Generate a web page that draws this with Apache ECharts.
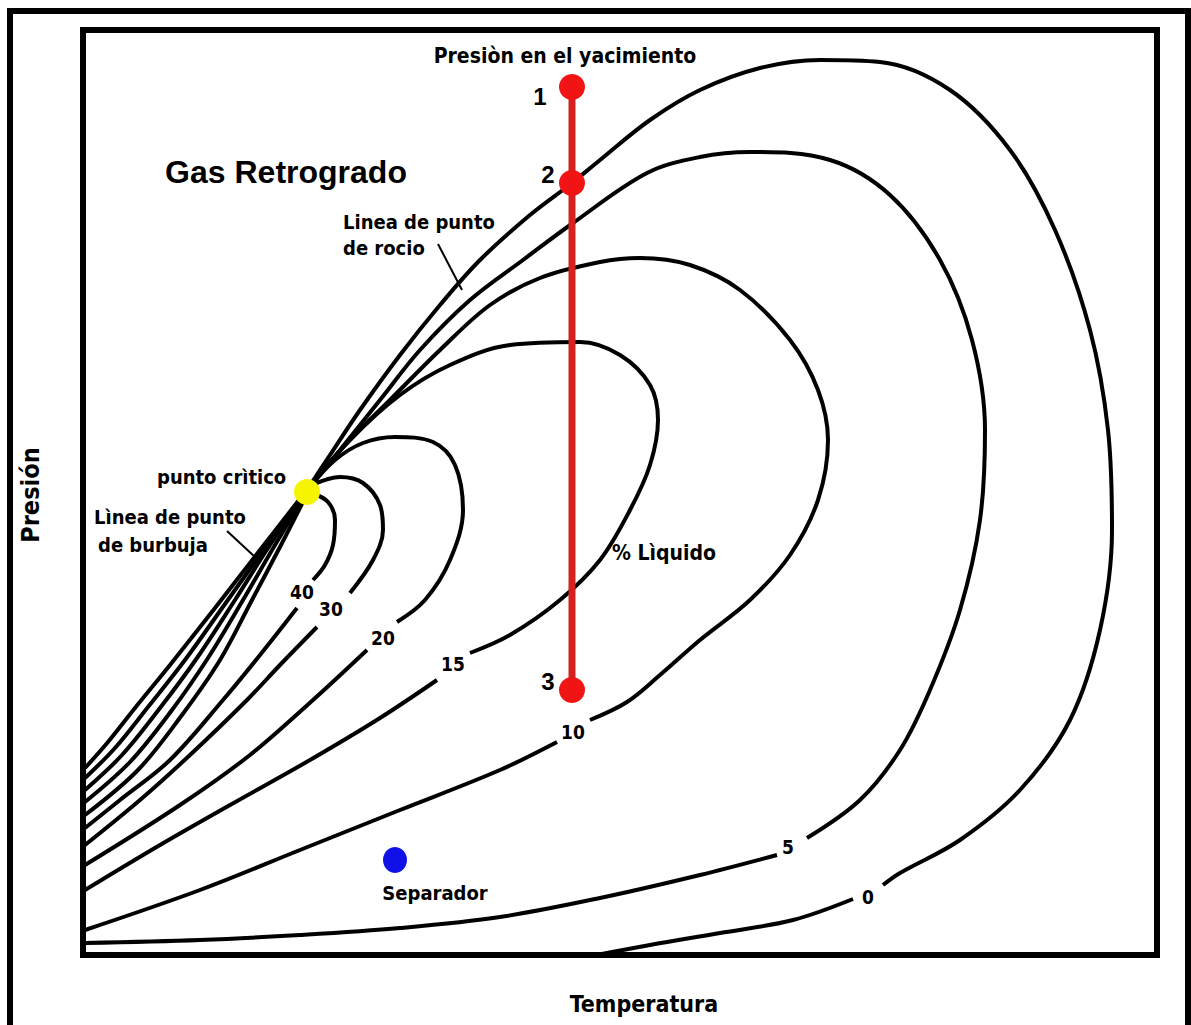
<!DOCTYPE html>
<html>
<head>
<meta charset="utf-8">
<title>Gas Retrogrado</title>
<script src="https://cdn.jsdelivr.net/npm/echarts@6/dist/echarts.min.js"></script>
<style>
  html, body { margin: 0; padding: 0; background: #fff; }
  #main { width: 1191px; height: 1025px; }
</style>
</head>
<body>
<div id="main"></div>
<script>
// curvas de % liquido (x = temperatura, y = presion en px del dibujo)
// cada curva va partida en dos tramos por la etiqueta
var liq0 = [[307, 490], [330, 455], [360, 410], [400, 355], [440, 305], [480, 260], [530, 215], [572, 183], [600, 160], [650, 120], [700, 90], [760, 68], [820, 60], [880, 62], [950, 90], [1010, 150], [1055, 230], [1090, 330], [1108, 430], [1112, 530], [1100, 630], [1070, 720], [1020, 790], [960, 840], [900, 873], [883, 885]]
var liq0b = [[853, 899], [793, 920], [720, 933], [650, 945], [560, 962]]
var liq5 = [[307, 490], [340, 450], [380, 400], [420, 350], [470, 300], [523, 260], [573, 223], [647, 173], [700, 157], [750, 152], [830, 160], [890, 195], [940, 260], [972, 340], [985, 430], [980, 520], [960, 610], [930, 690], [900, 750], [860, 800], [807, 838]]
var liq5b = [[777, 855], [700, 875], [600, 898], [500, 917], [400, 928], [300, 935], [200, 940], [85, 943]]
var liq10 = [[307, 490], [345, 445], [390, 400], [440, 350], [490, 305], [540, 278], [600, 262], [640, 258], [690, 265], [740, 290], [790, 340], [818, 390], [828, 440], [818, 500], [790, 555], [750, 600], [700, 640], [660, 675], [627, 702], [590, 720]]
var liq10b = [[557, 742], [500, 770], [400, 810], [300, 850], [200, 890], [85, 930]]
var liq15 = [[307, 490], [350, 440], [400, 395], [450, 365], [510, 345], [580, 342], [620, 355], [650, 385], [658, 420], [650, 465], [630, 510], [600, 560], [560, 600], [510, 635], [470, 653]]
var liq15b = [[437, 680], [380, 718], [310, 760], [230, 805], [160, 845], [85, 890]]
var liq20 = [[310, 487], [335, 460], [363, 443], [395, 437], [433, 442], [455, 465], [463, 510], [450, 560], [425, 600], [397, 622]]
var liq20b = [[367, 650], [313, 700], [250, 755], [180, 805], [85, 865]]
var liq30 = [[312, 485], [340, 477], [363, 483], [380, 505], [383, 530], [373, 560], [350, 593]]
var liq30b = [[317, 627], [280, 665], [247, 700], [190, 755], [140, 800], [85, 845]]
var liq40 = [[312, 493], [328, 502], [335, 520], [333, 545], [325, 565], [313, 580]]
var liq40b = [[297, 608], [260, 655], [223, 700], [170, 760], [120, 800], [85, 828]]
var liq50 = [[306, 496], [281, 545], [252, 600], [220, 660], [182, 715], [138, 770], [85, 815]]
var liq60 = [[305, 495], [275, 545], [243, 600], [208, 658], [172, 710], [130, 762], [85, 802]]
var liq70 = [[305, 494], [270, 545], [235, 600], [197, 658], [160, 708], [122, 755], [85, 790]]
var liq80 = [[305, 493], [265, 548], [225, 604], [185, 660], [148, 707], [115, 748], [85, 778]]
var liq100 = [[306, 491], [260, 550], [215, 608], [170, 665], [135, 708], [108, 742], [85, 768]]

// etiquetas de las curvas
var pctLabels = ['40', '30', '20', '15', '10', '5', '0']
var pctPos = [[302, 592], [331, 609], [383, 638], [453, 664], [573, 732], [788, 847], [868, 897]]

// trayectoria del yacimiento (1 -> 2 -> 3), punto critico y separador
var reservoir = [[572, 87], [572, 183], [572, 690]]
var reservoirNames = ['1', '2', '3']
var criticalPoint = [[307, 492]]
var separator = [[395, 860]]

var chartDom = document.getElementById('main')
var myChart = echarts.init(chartDom, null, { renderer: 'svg' })

var curves = [liq0, liq0b, liq5, liq5b, liq10, liq10b, liq15, liq15b, liq20, liq20b,
  liq30, liq30b, liq40, liq40b, liq50, liq60, liq70, liq80, liq100]

var series = curves.map(function (c) {
  return {
    type: 'line',
    data: c,
    smooth: 0.35,
    symbol: 'none',
    silent: true,
    lineStyle: { color: '#000', width: 4 },
    z: 2
  }
})

series.push({
  type: 'line',
  data: [reservoir[0], reservoir[2]],
  symbol: 'none',
  lineStyle: { color: '#d42222', width: 7 },
  z: 3
})
series.push({
  type: 'scatter',
  data: reservoir,
  symbolSize: 26,
  itemStyle: { color: '#f01414', opacity: 1 },
  z: 4
})
series.push({
  type: 'scatter',
  data: criticalPoint,
  symbolSize: 26,
  itemStyle: { color: '#f5f500', opacity: 1 },
  z: 4
})
series.push({
  type: 'scatter',
  data: separator,
  symbolSize: [24, 26],
  itemStyle: { color: '#1010e8', opacity: 1 },
  z: 4
})

var narrow = "'Liberation Sans Narrow', 'DejaVu Sans Condensed', sans-serif"
var bold = "bold 20px " + narrow

function txt (s, x, y, font, align, rot) {
  return {
    type: 'text',
    x: x,
    y: y,
    rotation: rot || 0,
    z: 10,
    style: {
      text: s,
      font: font || bold,
      fill: '#000',
      align: align || 'center',
      verticalAlign: 'middle'
    }
  }
}

var graphics = [
  {
    type: 'rect',
    shape: { x: 10, y: 11, width: 1178, height: 1030 },
    style: { fill: 'none', stroke: '#000', lineWidth: 6 },
    z: 1
  },
  txt('Presiòn en el yacimiento', 565, 56, 'bold 21px ' + narrow),
  txt('Gas Retrogrado', 286, 172, 'bold 32px Arial, sans-serif'),
  txt('Linea de punto', 343, 222, bold, 'left'),
  txt('de rocio', 343, 248, bold, 'left'),
  txt('punto crìtico', 157, 477, bold, 'left'),
  txt('Lìnea de punto', 94, 517, bold, 'left'),
  txt('de burbuja', 98, 545, bold, 'left'),
  txt('% Lìquido', 612, 553, 'bold 21px ' + narrow, 'left'),
  txt('Separador', 435, 893, bold),
  txt('Temperatura', 644, 1004, 'bold 23px ' + narrow),
  txt('Presión', 30, 495, 'bold 25px ' + narrow, 'center', Math.PI / 2),
  { type: 'line', shape: { x1: 438, y1: 244, x2: 462, y2: 290 }, style: { stroke: '#000', lineWidth: 2 }, z: 10 },
  { type: 'line', shape: { x1: 227, y1: 531, x2: 255, y2: 557 }, style: { stroke: '#000', lineWidth: 2 }, z: 10 }
]

reservoirNames.forEach(function (n, i) {
  var dx = i === 0 ? -32 : -24
  graphics.push(txt(n, reservoir[i][0] + dx, reservoir[i][1] + (i === 0 ? 9 : -9), 'bold 24px Arial, sans-serif'))
})

pctLabels.forEach(function (l, i) {
  graphics.push(txt(l, pctPos[i][0], pctPos[i][1], 'bold 19px ' + narrow))
})

var option = {
  animation: false,
  backgroundColor: '#fff',
  grid: {
    show: true,
    left: 83,
    top: 30,
    width: 1074,
    height: 925,
    borderWidth: 6,
    borderColor: '#000',
    backgroundColor: '#fff'
  },
  xAxis: {
    type: 'value',
    min: 83,
    max: 1157,
    show: false
  },
  yAxis: {
    type: 'value',
    inverse: true,
    min: 30,
    max: 955,
    show: false
  },
  graphic: graphics,
  series: series
}

option && myChart.setOption(option)
</script>
</body>
</html>
